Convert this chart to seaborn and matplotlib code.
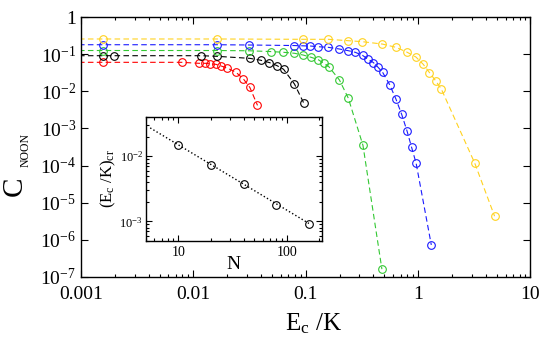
import matplotlib
matplotlib.use("Agg")
import matplotlib.pyplot as plt
import matplotlib.ticker as mticker
import seaborn as sns

# values (E_c/K , C_NOON), one pair of lists per curve
red_E = [0.0008, 0.00158, 0.00785, 0.0112, 0.0128, 0.0142, 0.0158, 0.0175, 0.0199, 0.0239, 0.0279, 0.0318, 0.0372]
red_C = [0.061, 0.061, 0.061, 0.0574, 0.0574, 0.055, 0.054, 0.049, 0.043, 0.033, 0.0216, 0.0128, 0.0042]

black_E = [0.0008, 0.00158, 0.00198, 0.0117, 0.0161, 0.0318, 0.0396, 0.0475, 0.0552, 0.0634, 0.0794, 0.0955]
black_C = [0.092, 0.092, 0.092, 0.092, 0.0887, 0.078, 0.0696, 0.060, 0.050, 0.0397, 0.0158, 0.0050]

green_E = [0.0008, 0.00158, 0.0161, 0.0313, 0.0487, 0.0628, 0.0794, 0.0947, 0.112, 0.129, 0.144, 0.160,
           0.1995, 0.239, 0.323, 0.476]
green_C = [0.127, 0.127, 0.127, 0.125, 0.119, 0.114, 0.107, 0.096, 0.083, 0.072, 0.058, 0.047,
           0.0203, 0.0066, 3.5e-4, 1.6e-7]

blue_E = [0.0008, 0.00158, 0.0161, 0.0311, 0.079, 0.0947, 0.110, 0.128, 0.158, 0.198, 0.238, 0.275,
          0.32, 0.356, 0.40, 0.44, 0.483, 0.558, 0.635, 0.714, 0.798, 0.875, 0.96, 1.31]
blue_C = [0.182, 0.182, 0.182, 0.179, 0.173, 0.170, 0.168, 0.161, 0.155, 0.140, 0.126, 0.114,
          0.094, 0.075, 0.060, 0.0448, 0.0328, 0.0152, 0.0062, 0.0024, 8.4e-4, 3.1e-4, 1.15e-4, 7.2e-7]

yellow_E = [0.0008, 0.00158, 0.0161, 0.0947, 0.158, 0.238, 0.318, 0.479, 0.635, 0.79, 0.955, 1.11,
            1.26, 1.43, 1.61, 3.18, 4.79]
yellow_C = [0.26, 0.26, 0.26, 0.255, 0.255, 0.234, 0.22, 0.19, 0.155, 0.116, 0.085, 0.054,
            0.0324, 0.0195, 0.0115, 1.19e-4, 4.3e-6]

# inset: critical E_c/K vs N, plus the dotted fit line
inset_N = [10, 20, 40, 80, 160]
inset_Ecr = [0.0149, 0.00723, 0.00377, 0.00181, 0.00092]
fit_N = [5.5, 160]
fit_Ecr = [0.0272, 0.00093]

x_ticks = [0.001, 0.01, 0.1, 1, 10]
x_ticklabels = ["0.001", "0.01", "0.1", "1", "10"]
y_ticks = [1, 1e-1, 1e-2, 1e-3, 1e-4, 1e-5, 1e-6, 1e-7]
y_ticklabels = ["1"] + [r"$10^{-%d}$" % k for k in range(1, 8)]

curves = [
    (red_E, red_C, "#ff0000"),
    (black_E, black_C, "#000000"),
    (green_E, green_C, "#33c833"),
    (blue_E, blue_C, "#1a1aff"),
    (yellow_E, yellow_C, "#ffd21f"),
]

sns.set_style("ticks")
plt.rcParams["font.family"] = ["Liberation Serif", "DejaVu Serif"]
plt.rcParams["mathtext.fontset"] = "custom"
plt.rcParams["mathtext.rm"] = "Liberation Serif"
plt.rcParams["mathtext.it"] = "Liberation Serif"
plt.rcParams["axes.edgecolor"] = "black"
plt.rcParams["xtick.color"] = "black"
plt.rcParams["ytick.color"] = "black"
plt.rcParams["text.color"] = "black"
plt.rcParams["axes.labelcolor"] = "black"

fig = plt.figure(figsize=(5.53, 3.42), dpi=100)
ax = fig.add_axes([0.1465, 0.1909, 0.8128, 0.7585])

for E, C, col in curves:
    sns.lineplot(x=E, y=C, ax=ax, color=col, estimator=None, errorbar=None,
                 linestyle=(0, (5, 3)), linewidth=0.8,
                 marker="o", markersize=5.5, markerfacecolor="none",
                 markeredgecolor=col, markeredgewidth=0.8)

ax.set_xscale("log")
ax.set_yscale("log")
ax.set_xlim(0.001, 10)
ax.set_ylim(1e-7, 1)
ax.xaxis.set_major_locator(mticker.FixedLocator(x_ticks))
ax.xaxis.set_major_formatter(mticker.FixedFormatter(x_ticklabels))
ax.xaxis.set_minor_locator(mticker.LogLocator(base=10, subs=range(2, 10)))
ax.xaxis.set_minor_formatter(mticker.NullFormatter())
ax.yaxis.set_major_locator(mticker.FixedLocator(y_ticks))
ax.yaxis.set_major_formatter(mticker.FixedFormatter(y_ticklabels))
ax.yaxis.set_minor_locator(mticker.LogLocator(base=10, subs=[10 ** 0.5]))
ax.yaxis.set_minor_formatter(mticker.NullFormatter())
ax.tick_params(which="both", direction="in", top=True, right=True, width=0.8)
ax.tick_params(which="major", length=5, labelsize=14)
ax.tick_params(which="minor", length=2.5)
ax.tick_params(axis="x", pad=7)
for s in ax.spines.values():
    s.set_linewidth(1.0)

ax.set_ylabel("")
ax.set_xlabel(r"E$_{\rm c}$ /K", fontsize=18, labelpad=7)
ax.xaxis.set_label_coords(0.517, -0.135)
fig.text(0.027, 0.455, "C", fontsize=21, rotation=90, ha="center", va="center")
fig.text(0.046, 0.56, "NOON", fontsize=8.5, rotation=90, ha="center", va="center")

# inset
ins = fig.add_axes([0.2635, 0.2953, 0.3183, 0.3626])
sns.lineplot(x=fit_N, y=fit_Ecr, ax=ins, color="black", estimator=None, errorbar=None,
             linestyle=":", linewidth=1.0)
sns.lineplot(x=inset_N, y=inset_Ecr, ax=ins, color="black", estimator=None, errorbar=None,
             linestyle="none", marker="o", markersize=5.5, markerfacecolor="none",
             markeredgecolor="black", markeredgewidth=0.8)
ins.set_xscale("log")
ins.set_yscale("log")
ins.set_xlim(5, 210)
ins.set_ylim(5e-4, 0.04)
ins.xaxis.set_major_locator(mticker.FixedLocator([10, 100]))
ins.xaxis.set_major_formatter(mticker.FixedFormatter(["10", "100"]))
ins.xaxis.set_minor_locator(mticker.LogLocator(base=10, subs=range(2, 10)))
ins.xaxis.set_minor_formatter(mticker.NullFormatter())
ins.yaxis.set_major_locator(mticker.FixedLocator([1e-2, 1e-3]))
ins.yaxis.set_major_formatter(mticker.FixedFormatter([r"$10^{-2}$", r"$10^{-3}$"]))
ins.yaxis.set_minor_locator(mticker.LogLocator(base=10, subs=range(2, 10)))
ins.yaxis.set_minor_formatter(mticker.NullFormatter())
ins.tick_params(which="both", direction="in", top=True, right=True, width=0.8)
ins.tick_params(which="major", length=4, labelsize=10)
ins.tick_params(which="minor", length=2)
ins.tick_params(axis="y", labelsize=9, pad=2)
for s in ins.spines.values():
    s.set_linewidth(1.0)
ins.set_xlabel("N", fontsize=14, labelpad=-2)
ins.set_ylabel(r"(E$_{\rm c}$ /K)$_{\rm cr}$", fontsize=12, labelpad=1)

fig.savefig("out.png", dpi=100)
